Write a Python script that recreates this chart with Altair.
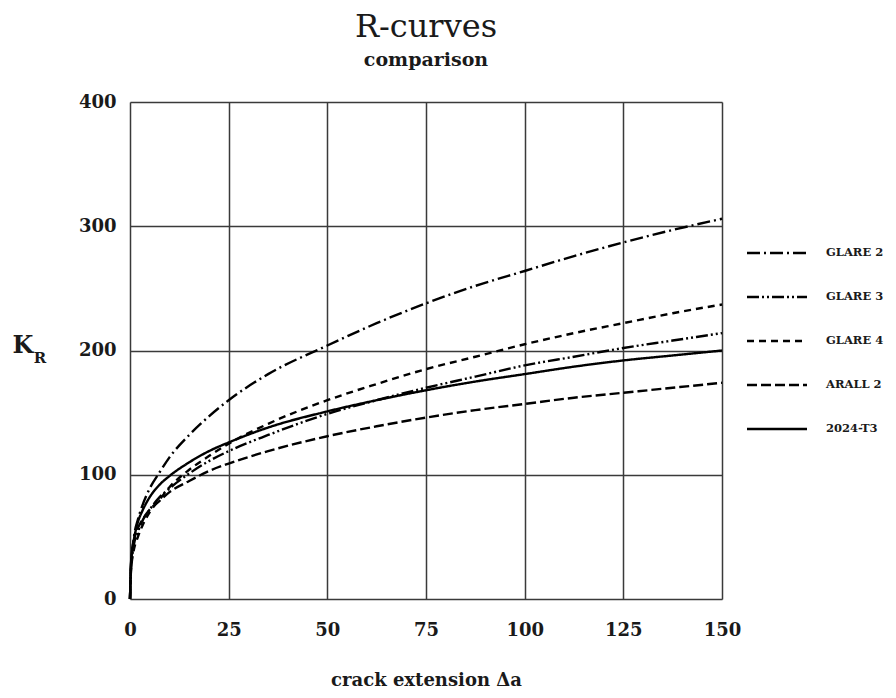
import altair as alt
import pandas as pd

# crack extension values (x)
da = [0, 0.25, 0.5, 1, 2, 3, 5, 7.5, 10, 15, 20, 25, 35, 50, 62.5, 75, 87.5, 100, 112.5, 125, 137.5, 150]

series = ["GLARE 2", "GLARE 3", "GLARE 4", "ARALL 2", "2024-T3"]

glare2 = [0, 26, 36, 50, 64, 74, 89, 102, 114, 132, 147, 160, 181, 204, 222, 238, 252, 264, 276, 287, 297, 306]
glare3 = [0, 24, 33, 44, 54, 62, 72, 82, 89, 101, 111, 119, 132, 149, 160, 170, 179, 188, 195, 202, 208, 214]
glare4 = [0, 23, 31, 40, 50, 58, 70, 80, 90, 104, 115, 125, 141, 160, 173, 185, 195, 205, 214, 222, 230, 237]
arall2 = [0, 27, 37, 47, 57, 63, 72, 79, 86, 95, 103, 109, 119, 131, 139, 146, 152, 157, 162, 166, 170, 174]
t2024 = [0, 28, 38, 48, 62, 70, 82, 92, 99, 110, 119, 126, 138, 151, 160, 168, 175, 181, 187, 192, 196, 200]

values = [glare2, glare3, glare4, arall2, t2024]
dashes = [[13, 4, 2, 4], [12, 3, 2, 3, 2, 3], [7, 5], [10, 4], [1, 0]]

x_ticks = [0, 25, 50, 75, 100, 125, 150]
y_ticks = [0, 100, 200, 300, 400]

rows = []
for name, ys in zip(series, values):
    for x, y in zip(da, ys):
        rows.append({"da": x, "K": y, "series": name})
df = pd.DataFrame(rows)

FONT = "DejaVu Serif"
W, H = 592, 497

dash_scale = alt.Scale(domain=series, range=dashes)

lines = alt.Chart(df).mark_line(color="black", strokeWidth=2.4, interpolate="monotone").encode(
    x=alt.X("da:Q", scale=alt.Scale(domain=[0, 150], nice=False),
            axis=alt.Axis(values=x_ticks, grid=True, gridColor="#3a3a3a", gridWidth=1.5, gridOpacity=1,
                          domain=False, ticks=False, labelFont=FONT, labelFontWeight="bold",
                          labelFontSize=18, labelColor="#1a1a1a", labelPadding=22, labelFlush=False,
                          title="crack extension  Δa", titleFont=FONT, titleFontWeight="bold",
                          titleFontSize=18, titleColor="#1a1a1a", titlePadding=32)),
    y=alt.Y("K:Q", scale=alt.Scale(domain=[0, 400], nice=False),
            axis=alt.Axis(values=y_ticks, grid=True, gridColor="#3a3a3a", gridWidth=1.5, gridOpacity=1,
                          domain=False, ticks=False, labelFont=FONT, labelFontWeight="bold",
                          labelFontSize=18, labelColor="#1a1a1a", labelPadding=14, labelFlush=False,
                          title=None)),
    strokeDash=alt.StrokeDash("series:N", scale=dash_scale, legend=None),
)

leg_df = pd.DataFrame({"series": series})
leg_y = alt.Y("series:N", scale=alt.Scale(type="point", domain=series, range=[151, 327], padding=0), axis=None)

leg_rules = alt.Chart(leg_df).mark_rule(color="black", strokeWidth=2.6).encode(
    x=alt.value(617), x2=alt.value(677), y=leg_y,
    strokeDash=alt.StrokeDash("series:N", scale=dash_scale, legend=None),
)
leg_text = alt.Chart(leg_df).mark_text(align="left", baseline="middle", font=FONT, fontWeight="bold",
                                       fontSize=11.5, color="#1a1a1a").encode(
    x=alt.value(696), y=leg_y, text="series:N",
)

k_df = pd.DataFrame({"t": ["K"]})
r_df = pd.DataFrame({"t": ["R"]})
k_text = alt.Chart(k_df).mark_text(font=FONT, fontSize=24, fontWeight="bold", color="#1a1a1a",
                                   baseline="middle", align="center").encode(
    x=alt.value(-107), y=alt.value(244), text="t:N")
r_text = alt.Chart(r_df).mark_text(font=FONT, fontSize=15, fontWeight="bold", color="#1a1a1a",
                                   baseline="middle", align="center").encode(
    x=alt.value(-90), y=alt.value(256), text="t:N")

chart = alt.layer(lines, leg_rules, leg_text, k_text, r_text).resolve_scale(
    y="independent"
).properties(
    width=W, height=H,
    title=alt.Title("R-curves", subtitle="comparison", font=FONT, fontSize=32, fontWeight="normal",
                    color="#1a1a1a", subtitleFont=FONT, subtitleFontSize=19, subtitleFontWeight="bold",
                    subtitleColor="#1a1a1a", subtitlePadding=7, anchor="middle", offset=22),
    autosize=alt.AutoSizeParams(type="none"),
    padding={"left": 122, "top": 94, "right": 166, "bottom": 91},
).configure_view(stroke="#2a2a2a", strokeWidth=2).configure(background="white")

chart.save("out.html", embed_options={"renderer": "svg", "actions": False})
